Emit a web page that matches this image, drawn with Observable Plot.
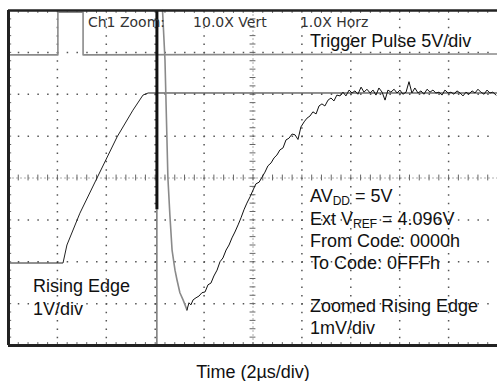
<!DOCTYPE html>
<html><head><meta charset="utf-8">
<script src="https://cdn.jsdelivr.net/npm/d3@7"></script>
<script src="https://cdn.jsdelivr.net/npm/@observablehq/plot@0.6"></script>
<style>body{margin:0;background:#fff}</style>
</head><body><div id="chart"></div>
<script>
// Time in µs (2 µs/div, 0 = screen centre); values in vertical divisions
const pulseT = [-10, -7.98, -7.98, -6.95, -6.95, 10];
const pulseV = [2.94, 2.94, 3.96, 3.96, 2.94, 2.96];

const edgeT = [-10, -7.77, -7.61, -7.08, -6.38, -5.56, -4.91, -4.50, -4.29, 10];
const edgeV = [-2.03, -2.03, -1.60, -0.84, 0, 0.98, 1.62, 1.98, 2.03, 2.03];

const zoomT = [-3.70,-3.60,-3.48,-3.40,-3.31,-3.19,-3.11,-2.99,-2.86,-2.78,-2.70,
 -2.62,-2.54,-2.45,-2.33,-2.21,-2.09,-1.96,-1.84,-1.72,-1.60,-1.47,-1.35,-1.23,-1.10,-0.98,-0.86,-0.74,-0.61,-0.49,-0.37,-0.25,-0.12,
 0,0.12,0.25,0.37,0.49,0.61,0.74,0.86,0.98,1.10,1.23,1.35,1.47,1.60,1.72,1.84,1.96,2.09,2.21,2.33,2.45,2.58,2.70,2.82,2.94,3.07,3.19,3.31,3.43,3.56,3.68,3.80,3.93,4.05,4.17,4.29,4.42,4.54,4.66,4.79,4.91,5.03,5.15,5.28,5.40,5.52,5.64,5.77,5.89,6.01,6.13,6.26,6.38,6.50,6.62,6.75,6.87,6.99,7.12,7.24,7.36,7.48,7.61,7.73,7.85,7.98,8.10,8.22,8.34,8.47,8.59,8.71,8.83,8.96,9.08,9.20,9.32,9.45,9.57,9.69,9.81,9.94];
const zoomV = [4.0,2.82,0,-0.88,-1.72,-2.20,-2.43,-2.74,-2.91,-3.03,-3.15,
 -2.98,-3.03,-2.91,-2.86,-2.82,-2.74,-2.72,-2.55,-2.51,-2.34,-2.20,-2.00,-1.91,-1.72,-1.60,-1.43,-1.29,-1.12,-0.95,-0.76,-0.60,-0.45,
 -0.29,-0.14,-0.10,0.02,0.14,0.29,0.36,0.48,0.55,0.67,0.72,0.91,0.95,1.05,1.03,0.92,1.22,1.34,1.43,1.48,1.58,1.53,1.72,1.77,1.72,1.86,1.91,1.84,1.98,1.96,2.05,1.96,2.10,2.03,2.08,2.00,2.17,2.05,2.12,2.03,2.10,1.98,2.15,2.05,1.86,2.10,2.05,2.12,2.03,2.10,2.00,2.05,2.30,2.03,2.15,2.03,2.08,2.00,2.12,2.05,2.10,2.03,2.05,1.98,2.10,2.03,2.05,2.00,2.08,2.03,1.96,2.05,2.00,2.08,2.03,2.12,2.05,2.00,2.10,2.03,2.05,1.98];

const cursorT = -3.93;
const cursorThickTo = -0.76;

const gridT = [-8, -6, -4, -2, 2, 4, 6, 8];
const gridV = [-3, -2, -1, 1, 2, 3];

const headerTexts = ["Ch1 Zoom:", "10.0X Vert", "1.0X Horz"];
const noteLines = ["AVDD = 5V", "Ext VREF = 4.096V", "From Code: 0000h", "To Code: 0FFFh", "Zoomed Rising Edge", "1mV/div"];
const edgeLabel = ["Rising Edge", "1V/div"];
const pulseLabel = "Trigger Pulse 5V/div";
const xTitle = "Time (2µs/div)";

const pulse = pulseT.map((t, i) => ({t, v: pulseV[i]}));
const edge = edgeT.map((t, i) => ({t, v: edgeV[i]}));
const zoom = zoomT.map((t, i) => ({t, v: zoomV[i]}));
const zoomA = zoom.slice(0, 11);
const zoomB = zoom.slice(10);

const minorT = d3.range(-10, 10.001, 0.4);
const minorV = d3.range(-4, 4.001, 0.2);

const txt = {fill: "#111", fontSize: 18, textAnchor: "start", lineAnchor: "bottom"};
const hdr = {fill: "#333", fontSize: 14, fontFamily: "'DejaVu Sans', sans-serif", textAnchor: "start", lineAnchor: "bottom", letterSpacing: 0.8};

const chart = Plot.plot({
  width: 497, height: 381,
  marginTop: 10, marginBottom: 36, marginLeft: 8, marginRight: 0,
  x: {domain: [-10, 10], axis: null},
  y: {domain: [-4, 4], axis: null},
  style: {fontFamily: "'Liberation Sans', Arial, Helvetica, sans-serif", background: "#fff"},
  marks: [
    // dotted grid
    Plot.ruleY(gridV, {stroke: "#555", strokeWidth: 1.5, strokeDasharray: "1.5,8.28"}),
    Plot.ruleX(gridT, {stroke: "#555", strokeWidth: 1.5, strokeDasharray: "1.5,6.88"}),
    // centre lines with ticks
    Plot.ruleY([0], {stroke: "#999", strokeWidth: 0.8, strokeDasharray: "2,2"}),
    Plot.ruleX([0], {stroke: "#999", strokeWidth: 0.8, strokeDasharray: "2,2"}),
    Plot.ruleX(minorT, {y1: -0.07, y2: 0.07, stroke: "#666", strokeWidth: 1}),
    Plot.ruleY(minorV, {x1: -0.12, x2: 0.12, stroke: "#666", strokeWidth: 1}),
    // edge ticks
    Plot.ruleX(minorT, {y1: 3.93, y2: 4, stroke: "#666", strokeWidth: 1}),
    Plot.ruleX(minorT, {y1: -4, y2: -3.93, stroke: "#666", strokeWidth: 1}),
    Plot.ruleY(minorV, {x1: -10, x2: -9.87, stroke: "#666", strokeWidth: 1}),
    // traces
    Plot.line(pulse, {x: "t", y: "v", stroke: "#8a8a8a", strokeWidth: 1.6}),
    Plot.line(edge, {x: "t", y: "v", stroke: "#222", strokeWidth: 1}),
    Plot.ruleX([cursorT], {y1: cursorThickTo, y2: 4, stroke: "#111", strokeWidth: 3}),
    Plot.ruleX([cursorT], {y1: -4, y2: cursorThickTo, stroke: "#333", strokeWidth: 1}),
    Plot.line(zoomA, {x: "t", y: "v", stroke: "#8a8a8a", strokeWidth: 1.6}),
    Plot.line(zoomB, {x: "t", y: "v", stroke: "#111", strokeWidth: 1}),
    // frame
    Plot.ruleY([4], {stroke: "#222", strokeWidth: 2.5}),
    Plot.ruleY([-4], {stroke: "#222", strokeWidth: 3}),
    Plot.ruleX([-10], {stroke: "#222", strokeWidth: 3}),
    // header (scope readout)
    Plot.text([headerTexts[0]], {x: -6.75, y: 3.60, text: d => d, ...hdr}),
    Plot.text([headerTexts[1]], {x: -2.45, y: 3.60, text: d => d, ...hdr}),
    Plot.text([headerTexts[2]], {x: 1.92, y: 3.60, text: d => d, ...hdr}),
    // annotations
    Plot.text([pulseLabel], {x: 2.33, y: 3.13, text: d => d, ...txt}),
    Plot.text([noteLines[0]], {x: 2.33, y: -0.58, text: d => d, ...txt}),
    Plot.text([noteLines[1]], {x: 2.33, y: -1.12, text: d => d, ...txt}),
    Plot.text([noteLines[2]], {x: 2.33, y: -1.65, text: d => d, ...txt}),
    Plot.text([noteLines[3]], {x: 2.33, y: -2.17, text: d => d, ...txt}),
    Plot.text([noteLines[4]], {x: 2.33, y: -3.20, text: d => d, ...txt}),
    Plot.text([noteLines[5]], {x: 2.33, y: -3.72, text: d => d, ...txt}),
    Plot.text([edgeLabel[0]], {x: -9.0, y: -2.72, text: d => d, ...txt}),
    Plot.text([edgeLabel[1]], {x: -9.0, y: -3.27, text: d => d, ...txt}),
    Plot.text([xTitle], {frameAnchor: "bottom", dy: 32, text: d => d, fill: "#111", fontSize: 18, lineAnchor: "bottom"})
  ]
});

// subscripts
d3.select(chart).selectAll("text").each(function() {
  const el = d3.select(this);
  const s = el.text();
  let parts = null;
  if (s === "AVDD = 5V") parts = ["AV", "DD", " = 5V"];
  if (s === "Ext VREF = 4.096V") parts = ["Ext V", "REF", " = 4.096V"];
  if (parts) {
    el.text(null);
    el.append("tspan").text(parts[0]);
    el.append("tspan").attr("dy", 3).attr("font-size", 12).text(parts[1]);
    el.append("tspan").attr("dy", -3).text(parts[2]);
  }
});

document.getElementById("chart").append(chart);
</script>
</body></html>
